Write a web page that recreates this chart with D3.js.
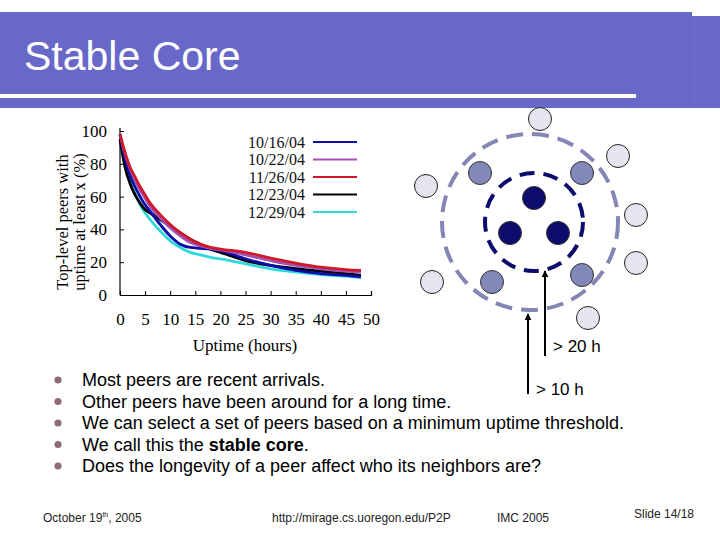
<!DOCTYPE html>
<html>
<head>
<meta charset="utf-8">
<script src="https://cdn.jsdelivr.net/npm/d3@7"></script>
<style>
  body { margin: 0; background: #fff; }
  svg { display: block; }
</style>
</head>
<body>
<script>
// uptime (hours) sample points
var hours = [0, 1, 2, 3, 4, 5, 6, 8, 10, 12, 14, 16, 18, 20, 25, 30, 35, 40, 45, 48];
var dates = ['10/16/04', '10/22/04', '11/26/04', '12/23/04', '12/29/04'];
var colors = ['#0c0ca8', '#a050b4', '#d01828', '#000000', '#30dada'];
var s1016 = [98, 83, 73, 66, 60, 55, 51, 43, 36, 31, 29, 28.5, 28, 27, 22, 18, 15, 13, 12, 11];
var s1022 = [98, 86, 77, 70, 64, 59, 54, 47, 41, 36, 32, 30, 28.5, 27.5, 24.5, 21, 18, 16, 14.5, 14];
var s1126 = [98, 87, 78, 72, 66, 61, 56, 49, 43, 38, 34, 31, 29, 28, 26, 22.5, 19.5, 17, 15.5, 15];
var s1223 = [95, 78, 68, 61, 56, 52, 50, 46, 42, 38, 34, 31, 28, 26, 21, 18, 16, 14.5, 13, 12];
var s1229 = [97, 80, 70, 62, 55, 50, 46, 39, 33, 29, 26, 24.5, 23, 22, 19, 16, 14, 12.5, 11.5, 10.5];
var series = [s1016, s1022, s1126, s1223, s1229];
var xTicks = [0, 5, 10, 15, 20, 25, 30, 35, 40, 45, 50];
var yTicks = [0, 20, 40, 60, 80, 100];

var bullets = [
  [['Most peers are recent arrivals.', false]],
  [['Other peers have been around for a long time.', false]],
  [['We can select a set of peers based on a minimum uptime threshold.', false]],
  [['We call this the ', false], ['stable core', true], ['.', false]],
  [['Does the longevity of a peer affect who its neighbors are?', false]]
];

// peers in the diagram: [x, y, kind]  0 = light, 1 = medium, 2 = core
var peers = [
  [540, 119, 0], [618, 156, 0], [426, 186, 0], [636, 215, 0], [636, 263, 0], [432, 282, 0], [588, 318, 0],
  [480, 173, 1], [582, 173, 1], [492, 282, 1], [582, 275, 1],
  [534, 198, 2], [510, 233, 2], [558, 233, 2]
];
var peerFill = ['#e4e5ef', '#8289ba', '#0c0c6c'];

var width = 720;
var height = 540;
var svg = d3.select('body').append('svg')
  .attr('width', width)
  .attr('height', height);

// title band
svg.append('rect').attr('x', 0).attr('y', 12).attr('width', 692).attr('height', 96).attr('fill', '#6868c8');
svg.append('rect').attr('x', 692).attr('y', 16).attr('width', 28).attr('height', 92).attr('fill', '#6a6acb');
svg.append('rect').attr('x', 0).attr('y', 94).attr('width', 636).attr('height', 4).attr('fill', '#fff');
svg.append('text')
  .attr('x', 24).attr('y', 70)
  .attr('font-family', 'Liberation Sans, Arial, sans-serif')
  .attr('font-size', 41)
  .attr('fill', '#fff')
  .text('Stable Core');

// chart
var xScale = d3.scaleLinear().domain([0, 50]).range([120, 371]);
var yScale = d3.scaleLinear().domain([0, 100]).range([295, 131]);

var serif = 'Liberation Serif, Times New Roman, serif';

var xAxis = d3.axisBottom(xScale).tickValues(xTicks).tickSize(-4).tickPadding(18);
var yAxis = d3.axisLeft(yScale).tickValues(yTicks).tickSize(-4).tickPadding(13);

var gx = svg.append('g')
  .attr('transform', 'translate(0,' + yScale(0) + ')')
  .call(xAxis);
var gy = svg.append('g')
  .attr('transform', 'translate(' + xScale(0) + ',0)')
  .call(yAxis);
[gx, gy].forEach(function (g) {
  g.select('.domain').attr('stroke', '#000').attr('stroke-width', 1.2);
  g.selectAll('.tick line').attr('stroke', '#000');
  g.selectAll('.tick text')
    .attr('font-family', serif)
    .attr('font-size', 17)
    .attr('fill', '#000');
});
gy.select('.domain').attr('d', 'M0,' + yScale(0) + 'V' + (yScale(100) - 3));

svg.append('text')
  .attr('x', 245).attr('y', 351)
  .attr('text-anchor', 'middle')
  .attr('font-family', serif)
  .attr('font-size', 17)
  .text('Uptime (hours)');

svg.append('text')
  .attr('transform', 'translate(68,222) rotate(-90)')
  .attr('text-anchor', 'middle')
  .attr('font-family', serif)
  .attr('font-size', 16.5)
  .text('Top-level peers with');
svg.append('text')
  .attr('transform', 'translate(85,222) rotate(-90)')
  .attr('text-anchor', 'middle')
  .attr('font-family', serif)
  .attr('font-size', 16.5)
  .text('uptime at least x (%)');

var line = d3.line()
  .x(function (d, i) { return xScale(hours[i]); })
  .y(function (d) { return yScale(d); })
  .curve(d3.curveMonotoneX);

var drawOrder = [4, 3, 0, 1, 2];
svg.append('g')
  .selectAll('path')
  .data(drawOrder)
  .enter()
  .append('path')
  .attr('fill', 'none')
  .attr('stroke', function (k) { return colors[k]; })
  .attr('stroke-width', 2.8)
  .attr('d', function (k) { return line(series[k]); });

// legend
var legend = svg.append('g')
  .selectAll('g')
  .data(dates)
  .enter()
  .append('g')
  .attr('transform', function (d, i) { return 'translate(0,' + (142 + i * 17.5) + ')'; });
legend.append('text')
  .attr('x', 305).attr('y', 5.5)
  .attr('text-anchor', 'end')
  .attr('font-family', serif)
  .attr('font-size', 16)
  .attr('fill', '#111')
  .text(function (d) { return d; });
legend.append('line')
  .attr('x1', 313).attr('x2', 357)
  .attr('y1', 0).attr('y2', 0)
  .attr('stroke', function (d, i) { return colors[i]; })
  .attr('stroke-width', 2);

// diagram
svg.append('circle')
  .attr('cx', 530).attr('cy', 222).attr('r', 88)
  .attr('fill', 'none')
  .attr('stroke', '#8585b6')
  .attr('stroke-width', 4)
  .attr('stroke-dasharray', '17 9');
svg.append('circle')
  .attr('cx', 534).attr('cy', 222).attr('r', 49)
  .attr('fill', 'none')
  .attr('stroke', '#0c0c6c')
  .attr('stroke-width', 4)
  .attr('stroke-dasharray', '15 9');

svg.append('g')
  .selectAll('circle')
  .data(peers)
  .enter()
  .append('circle')
  .attr('cx', function (d) { return d[0]; })
  .attr('cy', function (d) { return d[1]; })
  .attr('r', 11.5)
  .attr('fill', function (d) { return peerFill[d[2]]; })
  .attr('stroke', function (d) { return d[2] === 0 ? '#222' : '#333'; })
  .attr('stroke-width', 1);

// arrows
var defs = svg.append('defs');
defs.append('marker')
  .attr('id', 'head')
  .attr('viewBox', '0 0 10 10')
  .attr('refX', 9).attr('refY', 5)
  .attr('markerWidth', 3.5).attr('markerHeight', 3.5)
  .attr('orient', 'auto')
  .append('path')
  .attr('d', 'M0,0 L10,5 L0,10 Z')
  .attr('fill', '#000');

svg.append('line')
  .attr('x1', 545).attr('y1', 356).attr('x2', 545).attr('y2', 271)
  .attr('stroke', '#000').attr('stroke-width', 2)
  .attr('marker-end', 'url(#head)');
svg.append('line')
  .attr('x1', 528).attr('y1', 394).attr('x2', 528).attr('y2', 314)
  .attr('stroke', '#000').attr('stroke-width', 2)
  .attr('marker-end', 'url(#head)');

var sans = 'Liberation Sans, Arial, sans-serif';
svg.append('text').attr('x', 553).attr('y', 352)
  .attr('font-family', sans).attr('font-size', 17).text('> 20 h');
svg.append('text').attr('x', 536).attr('y', 395)
  .attr('font-family', sans).attr('font-size', 17).text('> 10 h');

// bullet list
var rows = svg.append('g')
  .selectAll('g')
  .data(bullets)
  .enter()
  .append('g')
  .attr('transform', function (d, i) { return 'translate(0,' + (380 + i * 21.5) + ')'; });
rows.append('circle')
  .attr('cx', 58).attr('cy', 0).attr('r', 3.6)
  .attr('fill', '#8e6c76');
rows.append('text')
  .attr('x', 82).attr('y', 6)
  .attr('font-family', sans)
  .attr('font-size', 18)
  .attr('fill', '#000')
  .selectAll('tspan')
  .data(function (d) { return d; })
  .enter()
  .append('tspan')
  .attr('font-weight', function (d) { return d[1] ? 'bold' : 'normal'; })
  .text(function (d) { return d[0]; });

// footer
var foot = svg.append('g')
  .attr('font-family', sans)
  .attr('font-size', 12)
  .attr('fill', '#222');
var oct = foot.append('text').attr('x', 43).attr('y', 522);
oct.append('tspan').text('October 19');
oct.append('tspan').attr('font-size', 7).attr('dy', -5).text('th');
oct.append('tspan').attr('dy', 5).text(', 2005');
foot.append('text').attr('x', 272).attr('y', 522).text('http://mirage.cs.uoregon.edu/P2P');
foot.append('text').attr('x', 497).attr('y', 522).text('IMC 2005');
foot.append('text').attr('x', 634).attr('y', 518).text('Slide 14/18');
</script>
</body>
</html>
